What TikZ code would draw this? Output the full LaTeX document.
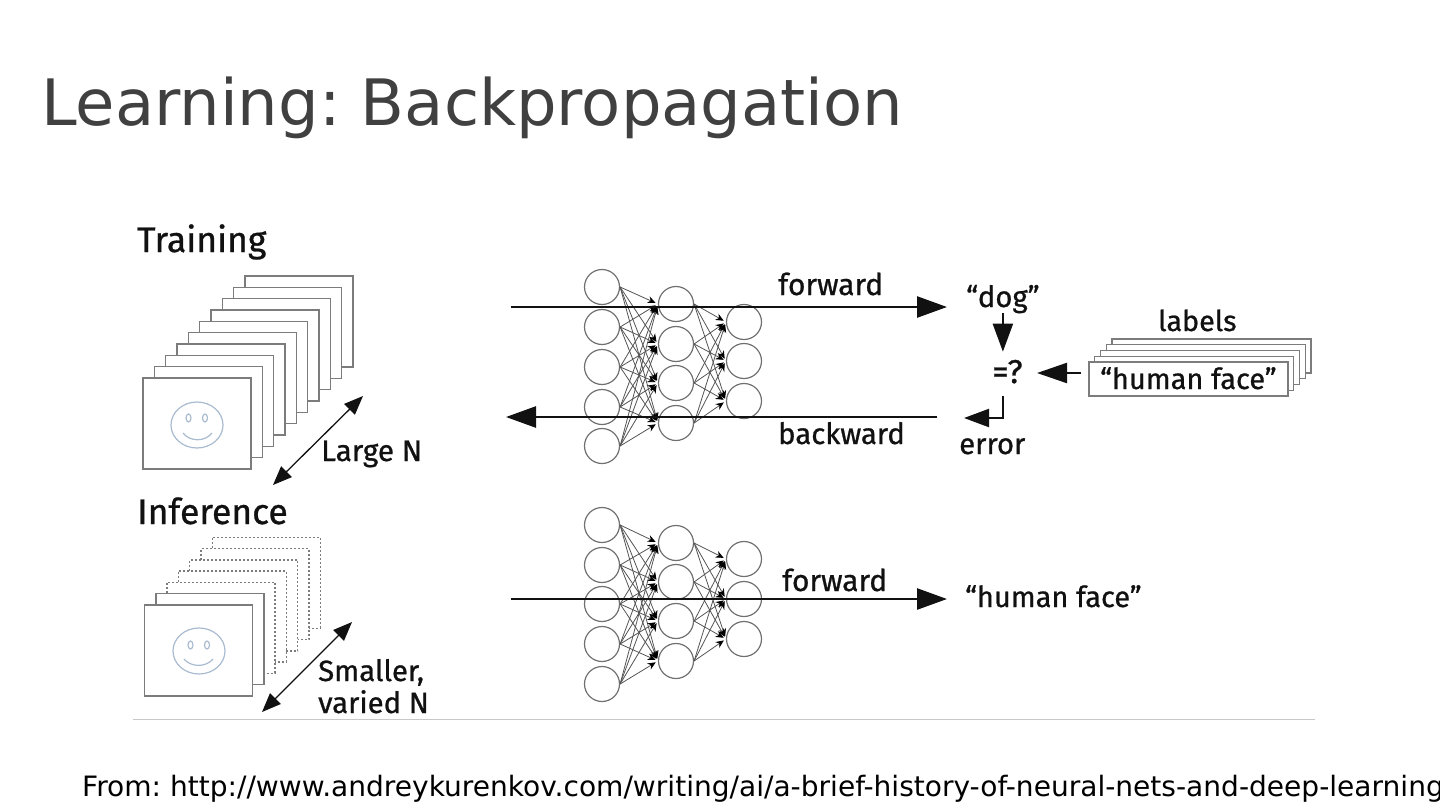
\documentclass[tikz,border=0pt]{standalone}
\usepackage{fontspec}
\setmainfont{DejaVu Sans}
\newfontfamily\figfont[FakeBold=0.8]{Fira Sans}
\usetikzlibrary{arrows.meta}
\definecolor{titlegray}{HTML}{404040}
\definecolor{framegray}{HTML}{7C7C7C}
\definecolor{netgray}{HTML}{707070}
\definecolor{facecol}{HTML}{A9BBD0}
\definecolor{rulegray}{HTML}{C8C8C8}
\definecolor{inkblack}{HTML}{111111}
\tikzset{
  x=1pt,y=-1pt,
  title/.style={anchor=base west,inner sep=0,text=titlegray,font=\fontsize{64}{64}\selectfont},
  foot/.style={anchor=base west,inner sep=0,text=black,font=\fontsize{28.05}{28}\selectfont},
  lab/.style={anchor=base west,inner sep=0,text=inkblack,font=\figfont\fontsize{29.3}{30}\selectfont},
  head/.style={anchor=base west,inner sep=0,text=inkblack,font=\figfont\fontsize{35.5}{36}\selectfont},
  frame/.style={draw=framegray,fill=white,line width=1.4pt,minimum width=108pt,minimum height=91pt,inner sep=0},
  dotframe/.style={frame,dash pattern=on 2pt off 2pt},
  labelcard/.style={draw=framegray,fill=white,line width=1.3pt,minimum width=199pt,minimum height=34pt,inner sep=0},
  neuron/.style={circle,draw=netgray,line width=1.2pt,minimum size=35pt,inner sep=0},
  synapse/.style={draw=netgray!75!black,line width=.8pt,shorten >=2.5pt,-{Stealth[length=8pt,width=7pt,black]}},
  bigarrow/.style={draw=inkblack,line width=2.6pt,-{Triangle[length=30pt,width=21pt]}},
  sizearrow/.style={draw=inkblack,line width=1.3pt,{Triangle[length=19pt,width=15pt]}-{Triangle[length=19pt,width=15pt]}},
  face/.style={draw=facecol,line width=1.2pt},
}
\begin{document}
\frenchspacing
\begin{tikzpicture}
\useasboundingbox (0,0) rectangle (1440,811);
\clip (0,0) rectangle (1440,811);
\node[title] (ttl) at (41,125) {Learning: Backpropagation};
\node[head] (trn) at (137,252) {Training};
\node[head] (inf) at (137,524) {Inference};
% training frames
\foreach \i in {9,...,0}
  \node[frame] (t\i) at ({197+11.33*\i},{423.5-11.33*\i}) {};
% inference frames
\foreach \i in {6,...,2}
  \node[dotframe] (p\i) at ({198.5+11.3*\i},{650.5-11.3*\i}) {};
\foreach \i in {1,0}
  \node[frame] (p\i) at ({198.5+11.3*\i},{650.5-11.3*\i}) {};
% faces
\draw[face] (197,425) ellipse [x radius=26,y radius=23];
\draw[face] (188.5,418) ellipse [x radius=2.5,y radius=4];
\draw[face] (205,418) ellipse [x radius=2.5,y radius=4];
\draw[face] (183,433) .. controls (190,442) and (205,442) .. (212,433);
\draw[face] (199,651) ellipse [x radius=26,y radius=23];
\draw[face] (190.5,645) ellipse [x radius=2.5,y radius=4];
\draw[face] (207,645) ellipse [x radius=2.5,y radius=4];
\draw[face] (184,659) .. controls (191,667.5) and (206,667.5) .. (213,659);
% size arrows
\coordinate (ls) at (273,485); \coordinate (le) at (363,396);
\coordinate (ss) at (262,712); \coordinate (se) at (352,622);
\draw[sizearrow] (ls) -- (le);
\draw[sizearrow] (ss) -- (se);
\node[lab,font=\figfont\fontsize{29.7}{30}\selectfont] (largen) at (321,461) {Large N};
\node[lab] (smaller) at (318,681) {Smaller,};
\node[lab] (varied) at (318,713) {varied N};
% network 1
\foreach \n/\y in {1/287,2/327,3/367,4/407,5/446} \node[neuron] (a\n) at (602,\y) {};
\foreach \n/\y in {1/304,2/344,3/383,4/423} \node[neuron] (b\n) at (676,\y) {};
\foreach \n/\y in {1/322,2/361,3/401} \node[neuron] (c\n) at (744,\y) {};
\foreach \i in {1,...,5} \foreach \j in {1,...,4} \draw[synapse] (a\i.east) -- (b\j.west);
\foreach \i in {1,...,4} \foreach \j in {1,...,3} \draw[synapse] (b\i.east) -- (c\j.west);
% network 2
\foreach \n/\y in {1/525,2/565,3/604,4/644,5/684} \node[neuron] (d\n) at (602,\y) {};
\foreach \n/\y in {1/543,2/582,3/621,4/661} \node[neuron] (e\n) at (676,\y) {};
\foreach \n/\y in {1/559,2/599,3/639} \node[neuron] (f\n) at (744,\y) {};
\foreach \i in {1,...,5} \foreach \j in {1,...,4} \draw[synapse] (d\i.east) -- (e\j.west);
\foreach \i in {1,...,4} \foreach \j in {1,...,3} \draw[synapse] (e\i.east) -- (f\j.west);
% flow arrows
\coordinate (fs) at (511,307); \coordinate (fe) at (947,307);
\coordinate (bs) at (937,417); \coordinate (be) at (506,417);
\coordinate (gs) at (511,599); \coordinate (ge) at (947,599);
\draw[bigarrow] (fs) -- (fe);
\draw[bigarrow] (bs) -- (be);
\draw[bigarrow] (gs) -- (ge);
\node[lab,font=\figfont\fontsize{30}{30}\selectfont] (fw1) at (778,295) {forward};
\node[lab] (bw) at (778,444) {backward};
\node[lab,font=\figfont\fontsize{30}{30}\selectfont] (fw2) at (782,591) {forward};
\node[lab] (dog) at (966,307) {“dog”};
\node[lab,font=\figfont\fontsize{33}{33}\selectfont] (eq) at (992,383) {=?};
\node[lab] (err) at (959,454) {error};
\node[lab,font=\figfont\fontsize{28.7}{30}\selectfont] (lbl) at (1158,331) {labels};
\node[lab,font=\figfont\fontsize{29}{30}\selectfont] (hf2) at (965,607) {“human face”};
% label cards
\foreach \i in {4,...,0}
  \node[labelcard] (k\i) at ({1188.5+5.75*\i},{379-5.75*\i}) {};
\node[lab,font=\figfont\fontsize{29}{30}\selectfont] (hf1) at (1100,389) {“human face”};
% comparison arrows
\draw[bigarrow,line width=2.2pt,shorten >=8pt,-{Triangle[length=28pt,width=20pt]}] (dog.south) -- (dog.south |- eq.north);
\coordinate (cs) at (1081,373);
\coordinate (ce) at (1037,373);
\draw[bigarrow,line width=2.2pt,-{Triangle[length=30pt,width=20pt]}] (cs) -- (ce);
\coordinate (es) at (1003,396);
\coordinate (ec) at (1003,418);
\coordinate (ee) at (964,418);
\draw[bigarrow,line width=2.2pt,-{Triangle[length=25pt,width=18pt]}] (es) -- (ec) -- (ee);
% rule and footer
\coordinate (rl) at (133,719); \coordinate (rr) at (1315,719);
\draw[rulegray,line width=1pt] (rl) -- (rr);
\node[foot] (src) at (82,796) {From: http://www.andreykurenkov.com/writing/ai/a-brief-history-of-neural-nets-and-deep-learning};
\end{tikzpicture}
\end{document}
